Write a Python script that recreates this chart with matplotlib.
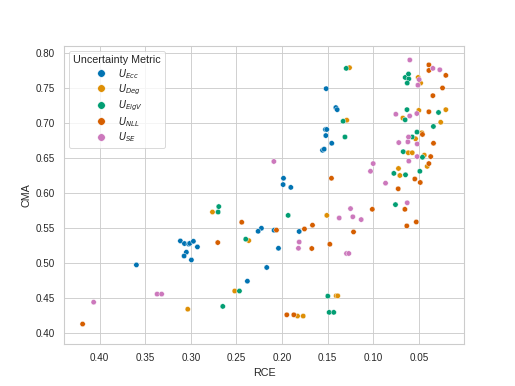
import pandas as pd
import matplotlib
matplotlib.use("Agg")
import matplotlib.pyplot as plt
import seaborn as sns

# values (RCE, CMA) per uncertainty metric
ecc_rce = [0.1516, 0.141, 0.1395, 0.1524, 0.151, 0.152, 0.1455, 0.1556, 0.1538,
           0.1984, 0.1988, 0.1904, 0.2226, 0.2262, 0.2087, 0.1812, 0.2039, 0.2168,
           0.3115, 0.307, 0.3024, 0.3012, 0.2972, 0.2928, 0.3049, 0.3074, 0.2994,
           0.3597, 0.238]
ecc_cma = [0.749, 0.722, 0.719, 0.6907, 0.6907, 0.682, 0.671, 0.661, 0.6626,
           0.621, 0.612, 0.608, 0.5496, 0.5453, 0.5468, 0.545, 0.521, 0.4936,
           0.5315, 0.5278, 0.527, 0.528, 0.531, 0.523, 0.5154, 0.510, 0.5044,
           0.4973, 0.474]

deg_rce = [0.126, 0.0507, 0.048, 0.050, 0.0204, 0.0675, 0.129, 0.026, 0.0467,
           0.0536, 0.0616, 0.0572, 0.044, 0.0408, 0.0723, 0.0708, 0.1509, 0.1406,
           0.1389, 0.183, 0.1768, 0.2763, 0.2365, 0.2519, 0.3034]
deg_cma = [0.779, 0.765, 0.757, 0.718, 0.719, 0.707, 0.704, 0.701, 0.686,
           0.6775, 0.6575, 0.6575, 0.654, 0.638, 0.635, 0.625, 0.568, 0.4531,
           0.4531, 0.4242, 0.4242, 0.5728, 0.532, 0.460, 0.434]

eigv_rce = [0.1296, 0.0649, 0.0613, 0.061, 0.0627, 0.063, 0.0284, 0.065, 0.133,
            0.034, 0.131, 0.052, 0.0573, 0.0671, 0.046, 0.0774, 0.0646, 0.0489,
            0.0756, 0.1933, 0.1498, 0.1483, 0.1433, 0.2694, 0.2701, 0.2398,
            0.2467, 0.265]
eigv_cma = [0.778, 0.765, 0.770, 0.763, 0.757, 0.719, 0.715, 0.7045, 0.7025,
            0.695, 0.680, 0.687, 0.680, 0.659, 0.651, 0.628, 0.626, 0.631,
            0.5834, 0.568, 0.4527, 0.4295, 0.4295, 0.5806, 0.5728, 0.534,
            0.460, 0.438]

nll_rce = [0.039, 0.039, 0.0204, 0.024, 0.0346, 0.039, 0.046, 0.0339, 0.037,
           0.039, 0.0544, 0.0484, 0.0726, 0.1458, 0.0653, 0.0528, 0.0632, 0.101,
           0.1666, 0.1754, 0.2061, 0.1216, 0.1674, 0.1476, 0.1948, 0.1871,
           0.2442, 0.2705, 0.4187]
nll_cma = [0.783, 0.775, 0.768, 0.750, 0.739, 0.716, 0.6836, 0.671, 0.652,
           0.642, 0.620, 0.615, 0.606, 0.621, 0.5767, 0.5586, 0.553, 0.5767,
           0.554, 0.5486, 0.547, 0.5444, 0.5207, 0.5268, 0.426, 0.426,
           0.5582, 0.5292, 0.4128]

se_rce = [0.0599, 0.0346, 0.027, 0.0496, 0.051, 0.0752, 0.060, 0.0522, 0.0613,
          0.062, 0.072, 0.0518, 0.0518, 0.209, 0.100, 0.061, 0.103, 0.0865,
          0.0627, 0.1249, 0.1373, 0.1224, 0.1132, 0.1812, 0.182, 0.1293, 0.1268,
          0.337, 0.332, 0.4066]
se_cma = [0.790, 0.778, 0.776, 0.762, 0.754, 0.7125, 0.710, 0.7135, 0.680,
          0.673, 0.672, 0.670, 0.652, 0.645, 0.642, 0.6455, 0.631, 0.614,
          0.586, 0.5777, 0.5643, 0.566, 0.562, 0.530, 0.521, 0.5136, 0.5136,
          0.4556, 0.4556, 0.444]

metrics = ["$U_{Ecc}$", "$U_{Deg}$", "$U_{EigV}$", "$U_{NLL}$", "$U_{SE}$"]
rce = [ecc_rce, deg_rce, eigv_rce, nll_rce, se_rce]
cma = [ecc_cma, deg_cma, eigv_cma, nll_cma, se_cma]

frames = []
for name, xs, ys in zip(metrics, rce, cma):
    frames.append(pd.DataFrame({"RCE": xs, "CMA": ys, "Uncertainty Metric": name}))
df = pd.concat(frames, ignore_index=True)

sns.set_theme(context="paper", style="whitegrid")
plt.rcParams["font.family"] = ["Liberation Sans", "DejaVu Sans"]

fig, ax = plt.subplots(figsize=(6.4, 4.8))
sns.scatterplot(data=df, x="RCE", y="CMA", hue="Uncertainty Metric",
                hue_order=metrics, palette="colorblind", ax=ax)
ax.set_xlim(0.4387, 0.001)
ax.set_ylim(0.385, 0.8098)
ax.set_xticks([0.40, 0.35, 0.30, 0.25, 0.20, 0.15, 0.10, 0.05])
ax.legend(title="Uncertainty Metric", loc="upper left",
          labelspacing=0.18, markerscale=1.4)

fig.savefig("out.png", dpi=515 / 6.4)
plt.close(fig)
